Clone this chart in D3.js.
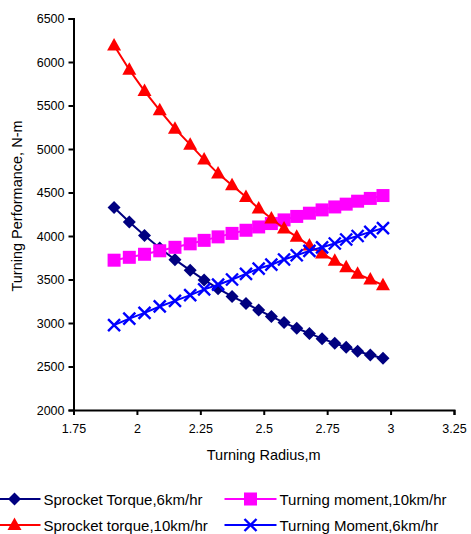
<!DOCTYPE html>
<html>
<head>
<meta charset="utf-8">
<script src="https://cdn.jsdelivr.net/npm/d3@7/dist/d3.min.js"></script>
<style>
  html, body { margin: 0; padding: 0; background: #fff; }
  svg { display: block; font-family: Arial, "Liberation Sans", sans-serif; }
</style>
</head>
<body>
<svg id="chart" width="471" height="534"></svg>
<script>
// Turning radius (m) for each computed point
const radius = [1.91, 1.97, 2.03, 2.09, 2.15, 2.21, 2.265, 2.32, 2.375, 2.43, 2.48,
                2.53, 2.58, 2.63, 2.68, 2.73, 2.78, 2.825, 2.87, 2.92, 2.97];

// Turning performance, N-m
const sprocketTorque6  = [4327, 4160, 4005, 3862, 3728, 3605, 3495, 3395, 3305, 3225, 3148,
                          3075, 3005, 2940, 2880, 2820, 2768, 2720, 2675, 2632, 2594];
const sprocketTorque10 = [6190, 5911, 5666, 5444, 5234, 5050, 4878, 4717, 4583, 4449, 4315,
                          4201, 4086, 3990, 3890, 3800, 3715, 3640, 3565, 3500, 3435];
const turningMoment10  = [3722, 3755, 3790, 3830, 3870, 3910, 3950, 3990, 4030, 4066, 4104,
                          4143, 4185, 4225, 4262, 4300, 4334, 4366, 4400, 4432, 4465];
const turningMoment6   = [2976, 3050, 3117, 3190, 3255, 3320, 3386, 3440, 3500, 3565, 3626,
                          3670, 3730, 3779, 3829, 3870, 3914, 3960, 4000, 4047, 4090];

const xTicks = [1.75, 2, 2.25, 2.5, 2.75, 3, 3.25];
const yTicks = [2000, 2500, 3000, 3500, 4000, 4500, 5000, 5500, 6000, 6500];

const series = [
  { name: "Sprocket Torque,6km/hr",  values: sprocketTorque6,  color: "#000080", marker: "diamond" },
  { name: "Turning moment,10km/hr",  values: turningMoment10,  color: "#FF00FF", marker: "square" },
  { name: "Sprocket torque,10km/hr", values: sprocketTorque10, color: "#FF0000", marker: "triangle" },
  { name: "Turning Moment,6km/hr",   values: turningMoment6,   color: "#0000FF", marker: "cross" }
];

const svg = d3.select("#chart");
const plot = { left: 73.5, right: 454, top: 18.5, bottom: 410 };

const x = d3.scaleLinear().domain([1.75, 3.25]).range([plot.left, plot.right]);
const y = d3.scaleLinear().domain([2000, 6500]).range([plot.bottom, plot.top]);

// marker drawing
function drawMarker(g, type, color) {
  if (type === "diamond") {
    g.append("path").attr("d", "M0,-6.5L6.5,0L0,6.5L-6.5,0Z").attr("fill", color);
  } else if (type === "square") {
    g.append("rect").attr("x", -6.5).attr("y", -6.5).attr("width", 13).attr("height", 13).attr("fill", color);
  } else if (type === "triangle") {
    g.append("path").attr("d", "M0,-7.5L7,5L-7,5Z").attr("fill", color);
  } else if (type === "cross") {
    g.append("path").attr("d", "M-6,-6L6,6M-6,6L6,-6")
      .attr("stroke", color).attr("stroke-width", 2.4).attr("fill", "none");
  }
}

const line = d3.line().x(d => x(d[0])).y(d => y(d[1]));

// draw each series: connecting line first, then its markers
series.forEach(s => {
  const pts = radius.map((r, i) => [r, s.values[i]]);
  svg.append("path").datum(pts).attr("d", line)
    .attr("fill", "none").attr("stroke", s.color).attr("stroke-width", 2);
  svg.append("g").selectAll("g").data(pts).join("g")
    .attr("transform", d => `translate(${x(d[0])},${y(d[1])})`)
    .each(function() { drawMarker(d3.select(this), s.marker, s.color); });
});

// axes
const xAxis = d3.axisBottom(x).tickValues(xTicks).tickSize(5).tickPadding(9)
  .tickFormat(d => String(d));
const yAxis = d3.axisLeft(y).tickValues(yTicks).tickSize(5).tickPadding(4)
  .tickFormat(d => String(d));

const gx = svg.append("g").attr("transform", `translate(0,${plot.bottom})`).call(xAxis);
const gy = svg.append("g").attr("transform", `translate(${plot.left},0)`).call(yAxis);
[gx, gy].forEach(g => {
  g.select(".domain").attr("stroke", "#000").attr("stroke-width", 2);
  g.selectAll(".tick line").attr("stroke", "#000").attr("stroke-width", 2);
  g.selectAll(".tick text").attr("fill", "#000").attr("font-size", 12.5)
    .attr("font-family", "Arial, 'Liberation Sans', sans-serif");
});

// axis titles
svg.append("text").attr("x", (plot.left + plot.right) / 2).attr("y", 460)
  .attr("text-anchor", "middle").attr("font-size", 14.5).text("Turning Radius,m");
svg.append("text").attr("transform", `translate(22,206) rotate(-90)`)
  .attr("text-anchor", "middle").attr("font-size", 14.5).text("Turning Performance, N-m");

// legend
const legendItems = [
  { s: series[0], cx: 14.5,  cy: 499 },
  { s: series[1], cx: 250.5, cy: 499 },
  { s: series[2], cx: 14.5,  cy: 525 },
  { s: series[3], cx: 250.5, cy: 525 }
];
legendItems.forEach(it => {
  const g = svg.append("g").attr("transform", `translate(${it.cx},${it.cy})`);
  g.append("line").attr("x1", -26).attr("x2", 26).attr("stroke", it.s.color).attr("stroke-width", 2);
  drawMarker(g.append("g"), it.s.marker, it.s.color);
  g.append("text").attr("x", 29).attr("y", 5.5).attr("font-size", 15).text(it.s.name);
});
</script>
</body>
</html>
